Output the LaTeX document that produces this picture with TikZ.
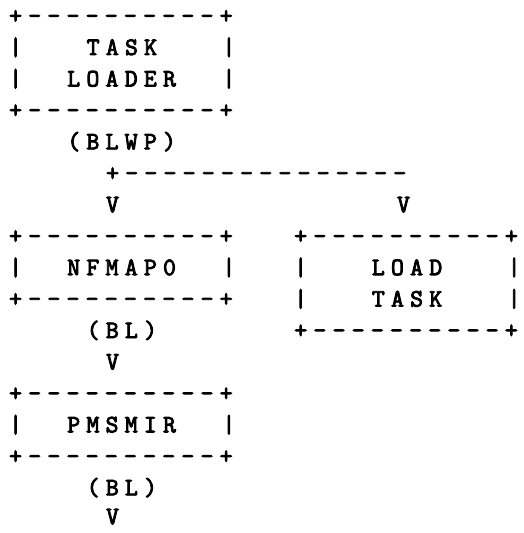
\documentclass[tikz,border=0pt]{standalone}
\usepackage{fontspec}
\newfontfamily\asciifont[LetterSpace=25.1,Ligatures=TeXOff,FakeBold=3.5]{Latin Modern Mono}
\usetikzlibrary{positioning}

\begin{document}
\begin{tikzpicture}[x=19.4pt,y=-31.45pt,
  txt/.style={anchor=base west,inner sep=0pt,xshift=-6.6pt,yshift=-7.5pt,
    font=\asciifont\fontsize{25pt}{25pt}\selectfont}]
\useasboundingbox (-15.5pt,16pt) rectangle (508.5pt,-517pt);
% task loader box
\node[txt] (ldtop) at (0,0) {+----------+};
\node[txt] (ldl1) at (0,1) {|};
\node[txt] (ldname1) at (4,1) {TASK};
\node[txt] (ldr1) at (11,1) {|};
\node[txt] (ldl2) at (0,2) {|};
\node[txt] (ldname2) at (3,2) {LOADER};
\node[txt] (ldr2) at (11,2) {|};
\node[txt] (ldbot) at (0,3) {+----------+};
% call out of the loader
\node[txt] (blwp) at (3,4) {(BLWP)};
\node[txt] (split) at (5,5) {+---------------};
\node[txt] (arrnf) at (5,6) {V};
\node[txt] (arrlt) at (20,6) {V};
% nfmap0 box
\node[txt] (nftop) at (0,7) {+----------+};
\node[txt] (nfl) at (0,8) {|};
\node[txt] (nfname) at (3,8) {NFMAP0};
\node[txt] (nfr) at (11,8) {|};
\node[txt] (nfbot) at (0,9) {+----------+};
% load task box
\node[txt] (lttop) at (14.7,7) {+----------+};
\node[txt] (ltl1) at (14.7,8) {|};
\node[txt] (ltname1) at (18.7,8) {LOAD};
\node[txt] (ltr1) at (25.7,8) {|};
\node[txt] (ltl2) at (14.7,9) {|};
\node[txt] (ltname2) at (18.7,9) {TASK};
\node[txt] (ltr2) at (25.7,9) {|};
\node[txt] (ltbot) at (14.7,10) {+----------+};
% branch to pmsmir
\node[txt] (bl1) at (4,10) {(BL)};
\node[txt] (arrpm) at (5,11) {V};
% pmsmir box
\node[txt] (pmtop) at (0,12) {+----------+};
\node[txt] (pml) at (0,13) {|};
\node[txt] (pmname) at (3,13) {PMSMIR};
\node[txt] (pmr) at (11,13) {|};
\node[txt] (pmbot) at (0,14) {+----------+};
% exit
\node[txt] (bl2) at (4,15) {(BL)};
\node[txt] (arrout) at (5,15.92) {V};
\end{tikzpicture}
\end{document}
